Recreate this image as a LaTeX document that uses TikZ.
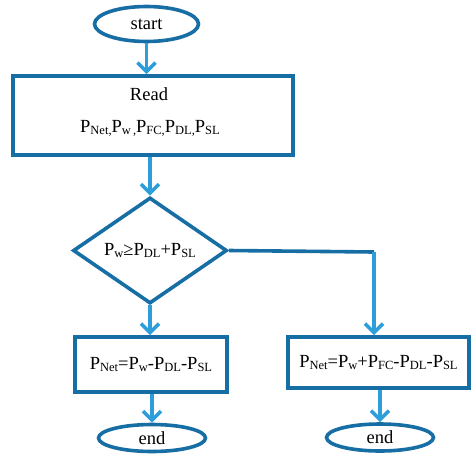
\documentclass[tikz,border=0pt]{standalone}
\usepackage{fontspec}
\setmainfont{Liberation Serif}
\usetikzlibrary{shapes.geometric,arrows.meta}
\definecolor{edgeblue}{HTML}{176EA5}
\definecolor{flowblue}{HTML}{2D9EDA}
% small lowered text for variable indices
\newcommand{\lo}[1]{\raisebox{-0.25ex}{\fontsize{12.5}{12.5}\selectfont #1}}
\tikzset{
  base/.style={draw=edgeblue, line width=3.6pt, inner sep=0pt, font=\fontsize{18.5}{22}\selectfont, text=black},
  terminal/.style={base, ellipse},
  procbox/.style={base, rectangle},
  decision/.style={base, diamond},
  flow/.style={draw=flowblue, line width=3.6pt, -{Straight Barb[length=9pt,width=18pt,line width=3.6pt]}},
  plain/.style={draw=edgeblue, line width=3.6pt}
}
\begin{document}
\begin{tikzpicture}[x=1pt,y=-1pt]
\useasboundingbox (0,0) rectangle (471,455);

\node[terminal, minimum width=104pt, minimum height=35pt] (start) at (146.5,24) {start};
\node[procbox, minimum width=280pt, minimum height=79pt] (read) at (153,115.5) {};
\node (readt) at (149,94) {\fontsize{18.5}{22}\selectfont Read};
\node (readv) at (150,128) {\fontsize{18.5}{22}\selectfont P\lo{Net,}P\lo{w\,,}P\lo{FC,}P\lo{DL,}P\lo{SL}};
\node[decision, minimum width=154pt, minimum height=93pt] (dia) at (150,250.5) {P\lo{w}≥P\lo{DL}+P\lo{SL}};
\node[procbox, minimum width=152pt, minimum height=55pt] (lbox) at (151,364.5) {P\lo{Net}=P\lo{w}-P\lo{DL}-P\lo{SL}};
\node[procbox, minimum width=181pt, minimum height=51pt] (rbox) at (378.5,362.5) {P\lo{Net}=P\lo{w}+P\lo{FC}-P\lo{DL}-P\lo{SL}};
\node[terminal, minimum width=107pt, minimum height=27pt] (endl) at (152,438) {end};
\node[terminal, minimum width=107pt, minimum height=27pt] (endr) at (380,437.5) {end};
\coordinate (turn) at (374,252);

\draw[flow] (start.south) -- (start.south |- read.north);
\draw[flow] (dia.north |- read.south) -- (dia.north);
\draw[flow] (dia.south) -- (dia.south |- lbox.north);
\draw[plain] (dia.east) -- (turn);
\draw[flow] (turn) -- (turn |- rbox.north);
\draw[flow] (lbox.south -| endl.north) -- (endl.north);
\draw[flow] (rbox.south -| endr.north) -- (endr.north);
\end{tikzpicture}
\end{document}
